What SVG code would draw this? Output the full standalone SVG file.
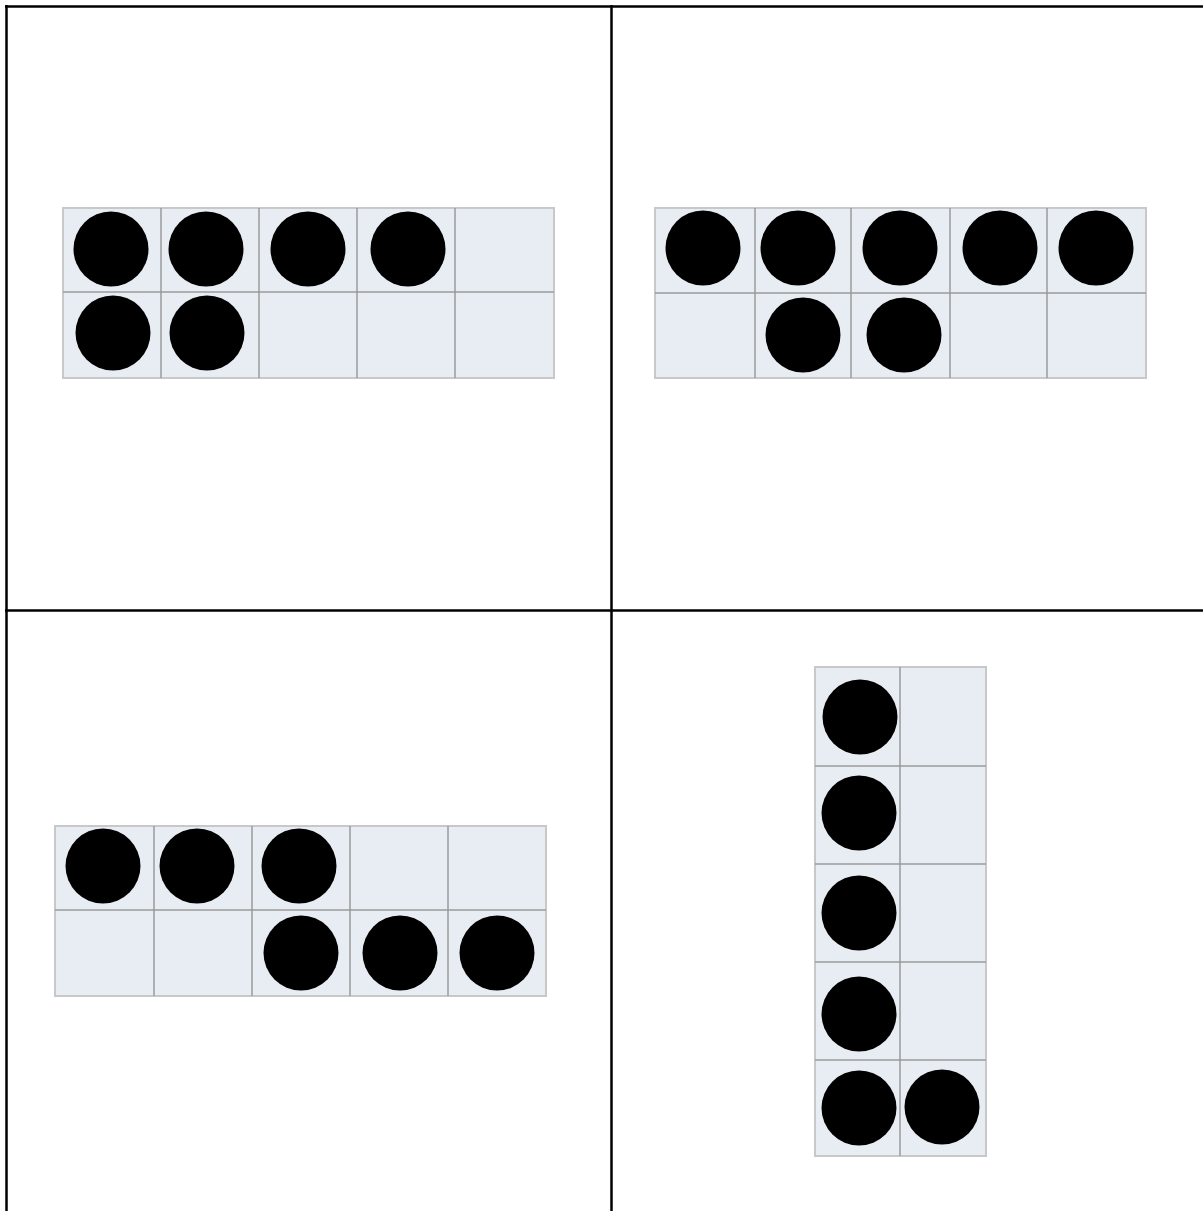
<svg xmlns="http://www.w3.org/2000/svg" width="1203" height="1211" viewBox="0 0 1203 1211">
<style>
.bg{fill:#ffffff}
.tbl{stroke:#000;stroke-width:2.5;fill:none}
.frame{fill:#e8ecf3;stroke:#c8c8c8;stroke-width:2}
.grid{stroke:#9a9a9a;stroke-width:1.5;fill:none}
.dot{fill:#000}
</style>
<rect class="bg" x="0" y="0" width="1203" height="1211"/>
<g id="table">
<line class="tbl" x1="5" y1="6.5" x2="1203" y2="6.5"/>
<line class="tbl" x1="6.5" y1="5" x2="6.5" y2="1211"/>
<line class="tbl" x1="611.5" y1="5" x2="611.5" y2="1211"/>
<line class="tbl" x1="5" y1="610.5" x2="1203" y2="610.5"/>
</g>
<g id="frame-tl">
<rect class="frame" x="63" y="208" width="491" height="170"/>
<path class="grid" d="M161 208V378M259 208V378M357 208V378M455 208V378M63 292H554"/>
<circle class="dot" cx="111" cy="249" r="37.5"/>
<circle class="dot" cx="206" cy="249" r="37.5"/>
<circle class="dot" cx="308" cy="249" r="37.5"/>
<circle class="dot" cx="408" cy="249" r="37.5"/>
<circle class="dot" cx="113" cy="333" r="37.5"/>
<circle class="dot" cx="207" cy="333" r="37.5"/>
</g>
<g id="frame-tr">
<rect class="frame" x="655" y="208" width="491" height="170"/>
<path class="grid" d="M755 208V378M851 208V378M950 208V378M1047 208V378M655 293H1146"/>
<circle class="dot" cx="703" cy="248" r="37.5"/>
<circle class="dot" cx="798" cy="248" r="37.5"/>
<circle class="dot" cx="900" cy="248" r="37.5"/>
<circle class="dot" cx="1000" cy="248" r="37.5"/>
<circle class="dot" cx="1096" cy="248" r="37.5"/>
<circle class="dot" cx="803" cy="335" r="37.5"/>
<circle class="dot" cx="904" cy="335" r="37.5"/>
</g>
<g id="frame-bl">
<rect class="frame" x="55" y="826" width="491" height="170"/>
<path class="grid" d="M154 826V996M252 826V996M350 826V996M448 826V996M55 910H546"/>
<circle class="dot" cx="103" cy="866" r="37.5"/>
<circle class="dot" cx="197" cy="866" r="37.5"/>
<circle class="dot" cx="299" cy="866" r="37.5"/>
<circle class="dot" cx="301" cy="953" r="37.5"/>
<circle class="dot" cx="400" cy="953" r="37.5"/>
<circle class="dot" cx="497" cy="953" r="37.5"/>
</g>
<g id="frame-br">
<rect class="frame" x="815" y="667" width="171" height="489"/>
<path class="grid" d="M900 667V1156M815 766H986M815 864H986M815 962H986M815 1060H986"/>
<circle class="dot" cx="860" cy="717" r="37.5"/>
<circle class="dot" cx="859" cy="813" r="37.5"/>
<circle class="dot" cx="859" cy="913" r="37.5"/>
<circle class="dot" cx="859" cy="1014" r="37.5"/>
<circle class="dot" cx="859" cy="1108" r="37.5"/>
<circle class="dot" cx="942" cy="1107" r="37.5"/>
</g>
</svg>
